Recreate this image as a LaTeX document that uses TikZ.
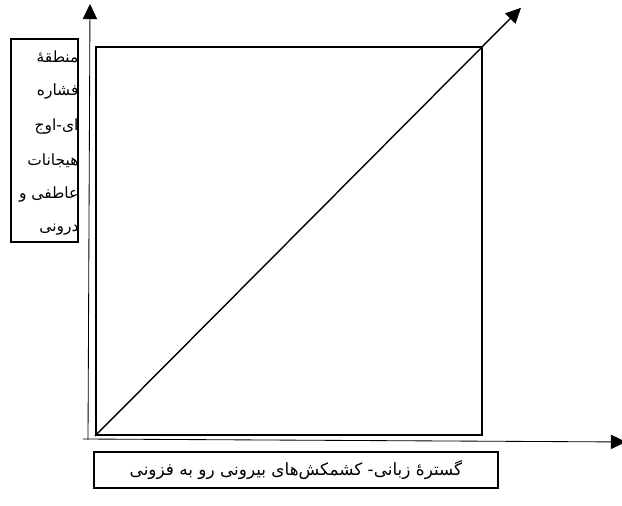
\documentclass[tikz,border=0pt]{standalone}
\usepackage{fontspec}
\newfontfamily\farsi[Script=Arabic]{DejaVu Sans}
\TeXXeTstate=1
\usetikzlibrary{positioning,arrows.meta,calc}

\begin{document}
\begin{tikzpicture}[
  font=\farsi\fontsize{11}{13}\selectfont, >={Triangle[length=0.38cm,width=0.36cm]},
  axis/.style={->, line width=0.6pt},
  plane/.style={draw, line width=1.4pt, minimum width=9.65cm, minimum height=9.7cm, inner sep=0pt},
  tagbox/.style={draw, line width=1pt, inner sep=0pt},
]
\useasboundingbox (0,0) rectangle (15.55,12.65);

% محورها
\coordinate (yfoot) at (2.2,1.65);
\coordinate (ytip) at (2.25,12.55);
\coordinate (xfoot) at (2.075,1.675);
\coordinate (xtip) at (15.65,1.6);
\draw[axis] (yfoot) -- (ytip);
\draw[axis] (xfoot) -- (xtip);

% مربع و قطر
\node[plane] (plane) at (7.225,6.625) {};
\draw[->, line width=1pt] (plane.south west) -- ($(plane.south west)!1.098!(plane.north east)$);

% برچسب عمودی
\node[tagbox, minimum width=1.675cm, minimum height=5.075cm] (zone) at (1.1125,9.1375) {};
\foreach \w [count=\i] in {منطقهٔ,فشاره,ای-اوج,هیجانات,عاطفی و,درونی}
  \node[anchor=east, inner sep=0pt] (zl\i) at ($(zone.north east)+(0,{-0.475-0.86*(\i-1)})$) {\beginR\w\endR};

% برچسب افقی
\node[tagbox, minimum width=10.1cm, minimum height=0.9cm, font=\farsi\fontsize{12}{14}\selectfont] (range) at (7.4,0.9)
  {\beginR گسترهٔ زبانی- کشمکش‌های بیرونی رو به فزونی\endR};
\end{tikzpicture}
\end{document}
